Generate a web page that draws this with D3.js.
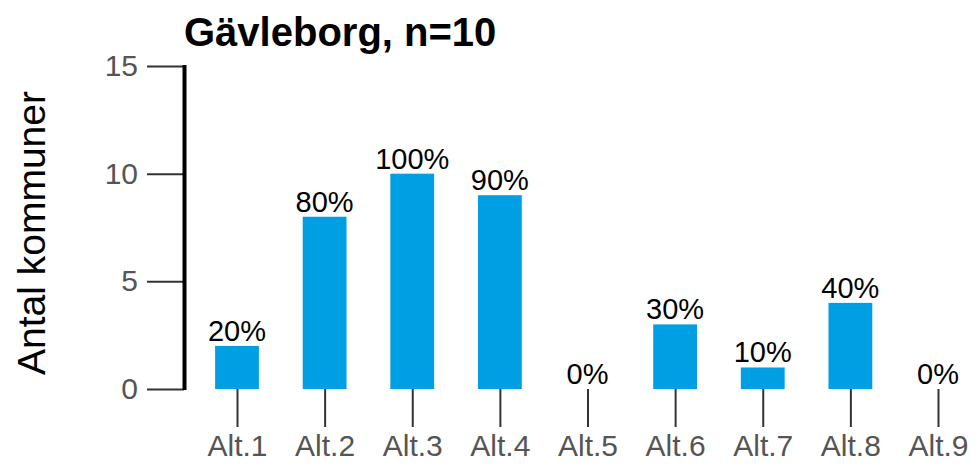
<!DOCTYPE html>
<html lang="sv">
<head>
<meta charset="UTF-8">
<title>Gävleborg, n=10</title>
<script src="https://cdn.jsdelivr.net/npm/d3@7"></script>
<style>
  body { margin: 0; background: #fff; }
  svg text { font-family: "Liberation Sans", Arial, sans-serif; }
</style>
</head>
<body>
<script>
  var categories = ["Alt.1", "Alt.2", "Alt.3", "Alt.4", "Alt.5", "Alt.6", "Alt.7", "Alt.8", "Alt.9"];
  var counts = [2, 8, 10, 9, 0, 3, 1, 4, 0];
  var percentLabels = ["20%", "80%", "100%", "90%", "0%", "30%", "10%", "40%", "0%"];
  var yTicks = [0, 5, 10, 15];

  var w = 979, h = 466;

  var svg = d3.select("body").append("svg")
      .attr("width", w)
      .attr("height", h);

  var x = d3.scalePoint().domain(categories).range([237, 938]);
  var barW = x.step() * 0.5;
  var y = d3.scaleLinear().domain([0, 15]).range([389, 66]);

  // title
  svg.append("text")
      .attr("x", 184)
      .attr("y", 46)
      .attr("font-size", "40px")
      .attr("font-weight", "bold")
      .attr("fill", "#000")
      .text("Gävleborg, n=10");

  // y title
  svg.append("text")
      .attr("transform", "translate(45," + 233 + ") rotate(-90)")
      .attr("text-anchor", "middle")
      .attr("font-size", "39px")
      .attr("fill", "#000")
      .text("Antal kommuner");

  // y axis
  var yAxis = svg.append("g")
      .attr("transform", "translate(184,0)")
      .call(d3.axisLeft(y).tickValues(yTicks).tickSize(37).tickPadding(9));
  yAxis.select(".domain").remove();
  yAxis.selectAll(".tick line").attr("stroke", "#333").attr("stroke-width", 2);
  yAxis.selectAll(".tick text")
      .attr("font-size", "30px")
      .attr("fill", "#555")
      .attr("font-family", "Liberation Sans, Arial, sans-serif");
  svg.append("line")
      .attr("x1", 184.5).attr("x2", 184.5)
      .attr("y1", y(15) - 1).attr("y2", y(0) + 1)
      .attr("stroke", "#000")
      .attr("stroke-width", 4);

  // x axis
  var xAxis = svg.append("g")
      .attr("transform", "translate(0," + y(0) + ")")
      .call(d3.axisBottom(x).tickSize(38).tickPadding(8));
  xAxis.select(".domain").remove();
  xAxis.selectAll(".tick line").attr("stroke", "#333").attr("stroke-width", 2);
  xAxis.selectAll(".tick text")
      .attr("font-size", "30px")
      .attr("fill", "#555")
      .attr("font-family", "Liberation Sans, Arial, sans-serif");

  // bars
  svg.selectAll("rect.bar")
      .data(counts)
      .enter()
      .append("rect")
      .attr("class", "bar")
      .attr("x", function(d, i) { return x(categories[i]) - barW / 2; })
      .attr("y", function(d) { return y(d); })
      .attr("width", barW)
      .attr("height", function(d) { return y(0) - y(d); })
      .attr("fill", "#009FE3");

  // value labels
  svg.selectAll("text.val")
      .data(counts)
      .enter()
      .append("text")
      .attr("class", "val")
      .attr("x", function(d, i) { return x(categories[i]); })
      .attr("y", function(d) { return y(d) - 5; })
      .attr("text-anchor", "middle")
      .attr("font-size", "29px")
      .attr("fill", "#000")
      .text(function(d, i) { return percentLabels[i]; });
</script>
</body>
</html>
